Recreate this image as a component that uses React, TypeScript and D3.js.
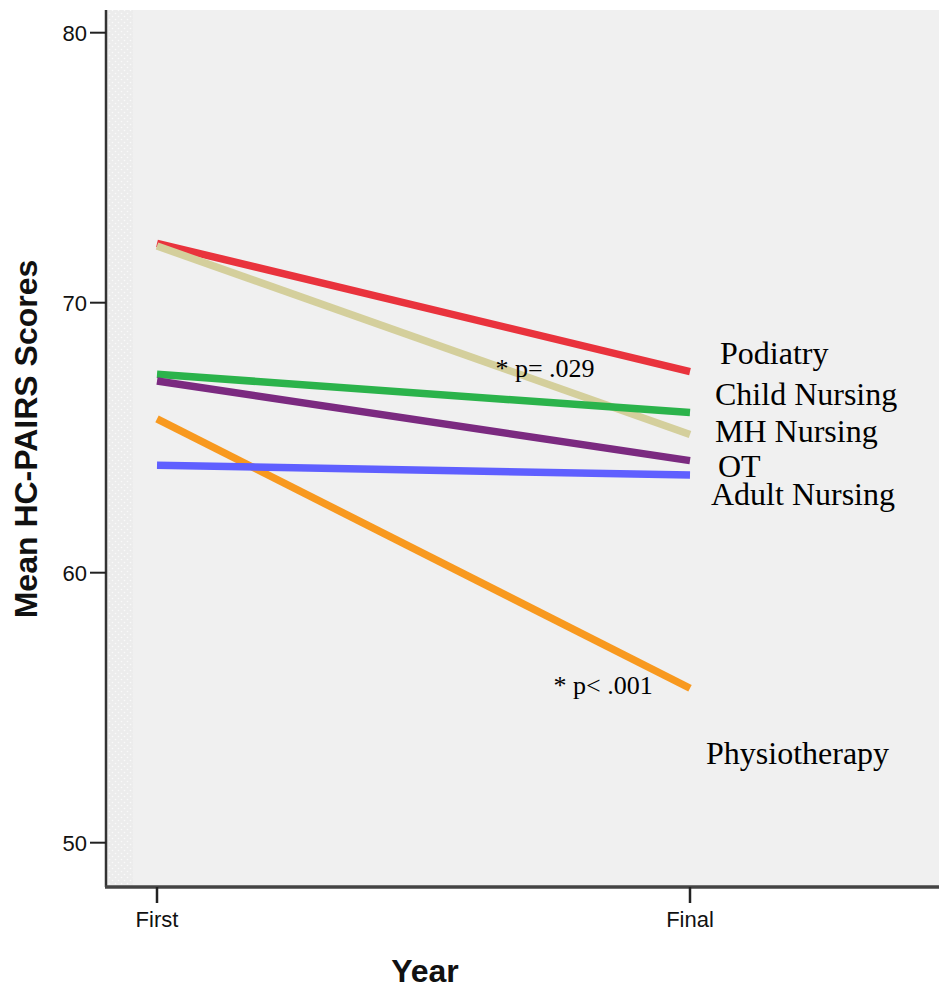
import React from "react";
import * as d3 from "d3";

const years = ["First", "Final"];
const groups = ["Podiatry", "MH Nursing", "Child Nursing", "OT", "Physiotherapy", "Adult Nursing"];
const firstScores = [72.2, 72.1, 67.35, 67.1, 65.7, 63.98];
const finalScores = [67.45, 65.12, 65.93, 64.15, 55.72, 63.62];
const colors = ["#e9333d", "#d4cf9c", "#2bb34b", "#7b2a80", "#f8991f", "#5f5fff"];
const yTicks = [50, 60, 70, 80];

const labelNames = ["Podiatry", "Child Nursing", "MH Nursing", "OT", "Adult Nursing", "Physiotherapy"];
const labelValues = [67.73, 66.21, 64.84, 63.54, 62.5, 52.92];
const labelOffsets = [30, 25, 25, 28, 21, 16];

const notes = ["* p= .029", "* p< .001"];
const noteYears = [0.635, 0.744];
const noteValues = [67.25, 55.51];

export default function App() {
  const W = 939, H = 990;
  const plotLeft = 106, plotTop = 10, plotBottom = 887, plotRight = 939;
  const y = d3.scaleLinear().domain([50, 80]).range([842.7, 32.7]);
  const x = d3.scalePoint<string>().domain(years).range([157, 690]);
  const xc = d3.scaleLinear().domain([0, 1]).range([157, 690]);
  const line = d3.line<number>().x((_, i) => x(years[i]) as number).y((v) => y(v));

  return (
    <svg width={W} height={H} style={{ position: "absolute", left: 0, top: 0, background: "#fff" }}>
      <defs>
        <pattern id="dots" width="6" height="6" patternUnits="userSpaceOnUse">
          <rect width="6" height="6" fill="#ececec" />
          <circle cx="1.5" cy="1.5" r="0.8" fill="#fafafa" />
          <circle cx="4.5" cy="4.5" r="0.8" fill="#fafafa" />
        </pattern>
      </defs>
      <rect x={plotLeft} y={plotTop} width={plotRight - plotLeft} height={plotBottom - plotTop} fill="#f0f0f0" />
      <rect x={plotLeft + 1} y={plotTop} width={26} height={plotBottom - plotTop} fill="url(#dots)" />

      {groups.map((g, i) => (
        <path
          key={g}
          d={line([firstScores[i], finalScores[i]]) as string}
          stroke={colors[i]}
          strokeWidth={7.5}
          fill="none"
        />
      ))}

      {labelNames.map((n, i) => (
        <text
          key={n}
          x={(x("Final") as number) + labelOffsets[i]}
          y={y(labelValues[i])}
          fontFamily="'Liberation Serif', 'Times New Roman', serif"
          fontSize={32}
          fill="#000"
        >
          {n}
        </text>
      ))}

      {notes.map((t, i) => (
        <text
          key={t}
          x={xc(noteYears[i])}
          y={y(noteValues[i])}
          fontFamily="'Liberation Serif', 'Times New Roman', serif"
          fontSize={26}
          fill="#000"
        >
          {t}
        </text>
      ))}

      {/* Y axis */}
      <line x1={plotLeft} y1={plotTop} x2={plotLeft} y2={plotBottom} stroke="#333" strokeWidth={2.5} />
      {yTicks.map((t) => (
        <g key={t}>
          <line x1={90} x2={plotLeft} y1={y(t)} y2={y(t)} stroke="#222" strokeWidth={2} />
          <text
            x={87}
            y={y(t)}
            dy="0.36em"
            textAnchor="end"
            fontFamily="'Liberation Sans', Arial, sans-serif"
            fontSize={22}
            fill="#111"
          >
            {t}
          </text>
        </g>
      ))}

      {/* X axis */}
      <line x1={plotLeft - 1} y1={plotBottom} x2={plotRight} y2={plotBottom} stroke="#444" strokeWidth={3.5} />
      {years.map((yr) => (
        <g key={yr}>
          <line x1={x(yr)} x2={x(yr)} y1={plotBottom} y2={903} stroke="#222" strokeWidth={2.5} />
          <text
            x={x(yr)}
            y={927}
            textAnchor="middle"
            fontFamily="'Liberation Sans', Arial, sans-serif"
            fontSize={22}
            fill="#111"
          >
            {yr}
          </text>
        </g>
      ))}

      <text
        x={425}
        y={982}
        textAnchor="middle"
        fontFamily="'Liberation Sans', Arial, sans-serif"
        fontWeight="bold"
        fontSize={32}
        fill="#111"
      >
        Year
      </text>
      <text
        transform={`translate(37, 439) rotate(-90)`}
        textAnchor="middle"
        fontFamily="'Liberation Sans', Arial, sans-serif"
        fontWeight="bold"
        fontSize={32}
        fill="#111"
      >
        Mean HC-PAIRS Scores
      </text>
    </svg>
  );
}
